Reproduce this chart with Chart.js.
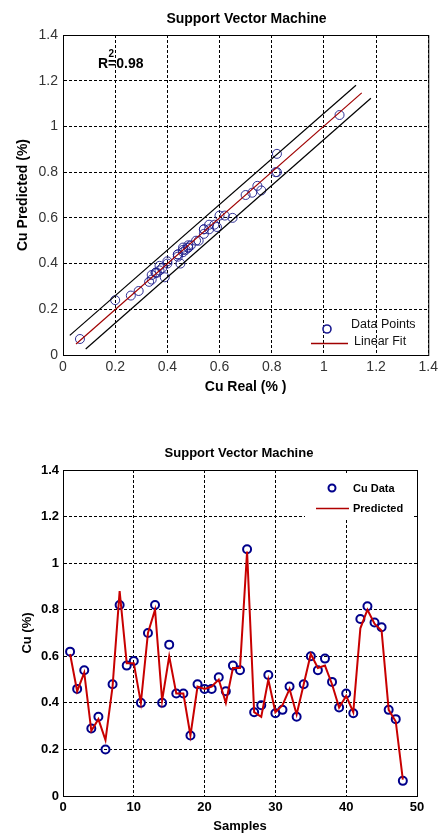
<!DOCTYPE html>
<html>
<head>
<meta charset="utf-8">
<script src="https://cdn.jsdelivr.net/npm/chart.js@4.4.1/dist/chart.umd.min.js"></script>
<style>
  html, body { margin: 0; padding: 0; background: #fff; }
  body { width: 442px; height: 833px; position: relative; overflow: hidden; }
  .box { position: absolute; left: 0; width: 442px; }
  #top { top: 0; height: 400px; }
  #bottom { top: 420px; height: 413px; }
</style>
</head>
<body>
<div class="box" id="top"><canvas id="scatterChart"></canvas></div>
<div class="box" id="bottom"><canvas id="samplesChart"></canvas></div>
<script>
// Cu measured vs SVM predicted, one value per sample
const sampleNo = [1,2,3,4,5,6,7,8,9,10,11,12,13,14,15,16,17,18,19,20,21,22,23,24,
                  25,26,27,28,29,30,31,32,33,34,35,36,37,38,39,40,41,42,43,44,45,46,47,48];
const cuReal = [0.62,0.46,0.54,0.29,0.34,0.20,0.48,0.82,0.56,0.58,0.40,0.70,0.82,0.40,0.65,0.44,
                0.44,0.26,0.48,0.46,0.46,0.51,0.45,0.56,0.54,1.06,0.36,0.39,0.52,0.355,0.37,0.47,
                0.34,0.48,0.60,0.54,0.59,0.49,0.38,0.44,0.355,0.76,0.815,0.745,0.725,0.37,0.33,0.065];
const cuPred = [0.61,0.45,0.53,0.28,0.33,0.24,0.47,0.88,0.57,0.57,0.40,0.70,0.80,0.41,0.60,0.44,
                0.44,0.26,0.47,0.46,0.47,0.50,0.40,0.55,0.55,1.05,0.36,0.34,0.50,0.36,0.39,0.46,
                0.35,0.48,0.61,0.55,0.56,0.48,0.38,0.43,0.36,0.72,0.80,0.74,0.71,0.37,0.32,0.07];

// fit line and its band (end points)
const fitX = [0.05, 1.145];
const fitY = [0.048, 1.147];
const upperX = [0.026, 1.123];
const upperY = [0.086, 1.18];
const lowerX = [0.087, 1.18];
const lowerY = [0.026, 1.123];

const FONT = '"Liberation Sans", Arial, sans-serif';
Chart.defaults.font.family = FONT;

const pairs = (xs, ys) => xs.map((x, i) => ({ x: x, y: ys[i] }));
const fmt = v => String(Number(v.toFixed(1)));

// frame, title and extras drawn on top of the plot
function decorPlugin(cfg) {
    return {
        id: 'decor',
        afterDatasetsDraw(chart) {
            const { ctx, chartArea: a } = chart;
            ctx.save();
            ctx.strokeStyle = '#000';
            ctx.lineWidth = 1;
            ctx.setLineDash([]);
            ctx.strokeRect(a.left + 0.5, a.top + 0.5, a.right - a.left, a.bottom - a.top);
            if (cfg.extra) cfg.extra(ctx, chart);
            ctx.restore();
        },
        afterDraw(chart) {
            const ctx = chart.ctx;
            ctx.save();
            ctx.fillStyle = '#000';
            ctx.font = cfg.titleFont;
            ctx.textAlign = 'center';
            ctx.textBaseline = 'alphabetic';
            ctx.fillText('Support Vector Machine', cfg.titleX, cfg.titleY);
            ctx.restore();
        }
    };
}

function axis(min, max, step, o) {
    return {
        type: 'linear', min: min, max: max,
        afterFit: o.fit,
        ticks: {
            stepSize: step, padding: o.tickPad, color: o.tickColor,
            font: o.tickFont, callback: fmt, autoSkip: false, maxRotation: 0
        },
        grid: { color: '#000', lineWidth: 1, drawTicks: false },
        border: { display: true, color: '#000', dash: [3, 2] },
        title: { display: true, text: o.title, color: '#000', font: o.titleFont, padding: o.titlePad }
    };
}

// ---- top: predicted vs real ----
new Chart(document.getElementById('scatterChart'), {
    type: 'scatter',
    data: {
        datasets: [
            { label: 'Linear Fit', data: pairs(fitX, fitY), showLine: true, borderColor: '#a00000',
              borderWidth: 1.2, pointRadius: 0, order: 0 },
            { label: 'upper', data: pairs(upperX, upperY), showLine: true, borderColor: '#000',
              borderWidth: 1.2, pointRadius: 0, order: 0 },
            { label: 'lower', data: pairs(lowerX, lowerY), showLine: true, borderColor: '#000',
              borderWidth: 1.2, pointRadius: 0, order: 0 },
            { label: 'Data Points', data: pairs(cuReal, cuPred), pointRadius: 4.5, pointStyle: 'circle',
              borderColor: 'rgba(30,30,140,0.9)', borderWidth: 1, backgroundColor: 'rgba(0,0,0,0)', order: 1 }
        ]
    },
    options: {
        responsive: true, maintainAspectRatio: false, animation: false,
        layout: { padding: { top: 35, right: 11, left: 0, bottom: 0 } },
        plugins: { legend: { display: false }, tooltip: { enabled: false } },
        scales: {
            x: axis(0, 1.4, 0.2, {
                fit: s => { s.height = 45; }, tickPad: 4, tickColor: '#333',
                tickFont: { size: 14 }, title: 'Cu Real (% )',
                titleFont: { size: 14, weight: 'bold' }, titlePad: { top: 0, bottom: 4 }
            }),
            y: axis(0, 1.4, 0.2, {
                fit: s => { s.width = 63; }, tickPad: 5, tickColor: '#333',
                tickFont: { size: 14 }, title: 'Cu Predicted (%)',
                titleFont: { size: 14, weight: 'bold' }, titlePad: { top: 15, bottom: 0 }
            })
        }
    },
    plugins: [decorPlugin({
        titleFont: 'bold 14px ' + FONT, titleX: 246.5, titleY: 23,
        extra(ctx) {
            // R squared note
            ctx.fillStyle = '#000';
            ctx.textAlign = 'left';
            ctx.textBaseline = 'alphabetic';
            ctx.font = 'bold 14px ' + FONT;
            ctx.fillText('R', 98, 68);
            const rw = ctx.measureText('R').width;
            ctx.fillText('=0.98', 98 + rw, 68);
            ctx.font = 'bold 10px ' + FONT;
            ctx.fillText('2', 98 + rw + 0.5, 57);
            // legend
            ctx.strokeStyle = '#1a1a90';
            ctx.lineWidth = 1.6;
            ctx.beginPath();
            ctx.arc(327, 329, 4, 0, Math.PI * 2);
            ctx.stroke();
            ctx.strokeStyle = '#a00000';
            ctx.lineWidth = 1.5;
            ctx.beginPath();
            ctx.moveTo(311, 343.5);
            ctx.lineTo(348, 343.5);
            ctx.stroke();
            ctx.font = '12.5px ' + FONT;
            ctx.textBaseline = 'middle';
            ctx.fillStyle = '#111';
            ctx.fillText('Data Points', 351, 325);
            ctx.fillText('Linear Fit', 354, 342);
        }
    })]
});

// ---- bottom: per-sample series ----
new Chart(document.getElementById('samplesChart'), {
    type: 'scatter',
    data: {
        datasets: [
            { label: 'Predicted', data: pairs(sampleNo, cuPred), showLine: true, borderColor: '#c80000',
              borderWidth: 2, pointRadius: 0, order: 0 },
            { label: 'Cu Data', data: pairs(sampleNo, cuReal), pointRadius: 4, pointStyle: 'circle',
              borderColor: '#00008b', borderWidth: 2, backgroundColor: 'rgba(0,0,0,0)', order: 1 }
        ]
    },
    options: {
        responsive: true, maintainAspectRatio: false, animation: false,
        layout: { padding: { top: 50, right: 25, left: 0, bottom: 0 } },
        plugins: { legend: { display: false }, tooltip: { enabled: false } },
        scales: {
            x: axis(0, 50, 10, {
                fit: s => { s.height = 37; }, tickPad: 4, tickColor: '#000',
                tickFont: { size: 13, weight: 'bold' }, title: 'Samples',
                titleFont: { size: 13, weight: 'bold', lineHeight: 1 }, titlePad: { top: 0, bottom: 0 }
            }),
            y: axis(0, 1.4, 0.2, {
                fit: s => { s.width = 63; }, tickPad: 4, tickColor: '#000',
                tickFont: { size: 13, weight: 'bold' }, title: 'Cu (%)',
                titleFont: { size: 13, weight: 'bold' }, titlePad: { top: 20, bottom: 0 }
            })
        }
    },
    plugins: [decorPlugin({
        titleFont: 'bold 13px ' + FONT, titleX: 239, titleY: 37,
        extra(ctx) {
            ctx.fillStyle = '#fff';
            ctx.fillRect(305, 54, 107, 46);
            ctx.strokeStyle = '#00008b';
            ctx.lineWidth = 2;
            ctx.beginPath();
            ctx.arc(332, 68, 3.5, 0, Math.PI * 2);
            ctx.stroke();
            ctx.strokeStyle = '#b00000';
            ctx.lineWidth = 1.5;
            ctx.beginPath();
            ctx.moveTo(316, 88.5);
            ctx.lineTo(349, 88.5);
            ctx.stroke();
            ctx.fillStyle = '#000';
            ctx.font = 'bold 11px ' + FONT;
            ctx.textAlign = 'left';
            ctx.textBaseline = 'middle';
            ctx.fillText('Cu Data', 353, 69);
            ctx.fillText('Predicted', 353, 89);
        }
    })]
});
</script>
</body>
</html>
